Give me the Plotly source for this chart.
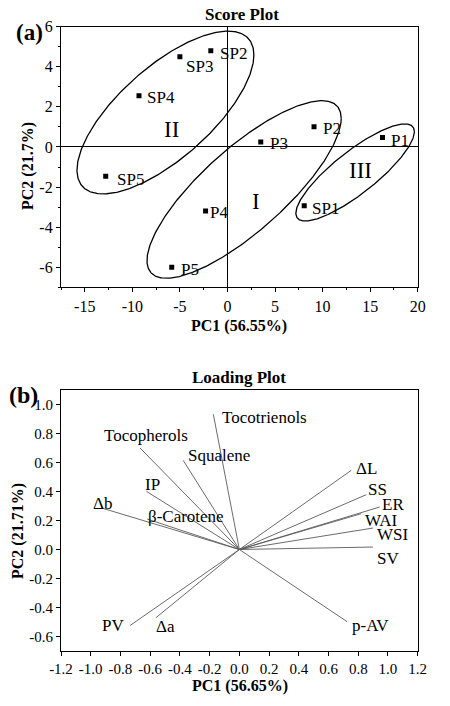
import numpy as np
import plotly.graph_objects as go

# ---------------- data: score plot ----------------
score_labels = ["SP2", "SP3", "SP4", "SP5", "P3", "P2", "P1", "SP1", "P4", "P5"]
score_pc1 = [-1.75, -5.0, -9.3, -12.8, 3.5, 9.1, 16.3, 8.07, -2.3, -5.86]
score_pc2 = [4.8, 4.5, 2.56, -1.46, 0.25, 1.01, 0.47, -2.93, -3.2, -6.0]

# group ellipses: centre, half-width, half-height, correlation of the bounding box
group_names = ["II", "I", "III"]
group_cx = [-6.52, 1.75, 13.42]
group_cy = [1.72, -2.12, -1.27]
group_wx = [9.30, 10.21, 6.23]
group_hy = [4.06, 4.43, 2.42]
group_rho = [0.707, 0.80, 0.84]
group_label_x = [-5.9, 3.0, 14.0]
group_label_y = [0.85, -2.73, -1.18]

score_xticks = [-15, -10, -5, 0, 5, 10, 15, 20]
score_xtick_text = ["-15", "-10", "-5", "0", "5", "10", "15", "20"]
score_yticks = [-6, -4, -2, 0, 2, 4, 6]
score_ytick_text = ["-6", "-4", "-2", "0", "2", "4", "6"]

# ---------------- data: loading plot ----------------
load_labels = ["Tocotrienols", "Tocopherols", "Squalene", "IP", "Δb", "β-Carotene",
               "ΔL", "SS", "ER", "WAI", "WSI", "SV", "p-AV", "PV", "Δa"]
load_pc1 = [-0.175, -0.668, -0.378, -0.625, -0.926, -0.62,
            0.753, 0.854, 0.944, 0.82, 0.899, 0.899, 0.724, -0.735, -0.562]
load_pc2 = [0.933, 0.70, 0.615, 0.401, 0.286, 0.21,
            0.546, 0.378, 0.293, 0.247, 0.148, 0.017, -0.497, -0.524, -0.471]

load_xticks = [-1.2, -1.0, -0.8, -0.6, -0.4, -0.2, 0.0, 0.2, 0.4, 0.6, 0.8, 1.0, 1.2]
load_xtick_text = ["-1.2", "-1.0", "-0.8", "-0.6", "-0.4", "-0.2", "0.0",
                   "0.2", "0.4", "0.6", "0.8", "1.0", "1.2"]
load_yticks = [-0.6, -0.4, -0.2, 0.0, 0.2, 0.4, 0.6, 0.8, 1.0]
load_ytick_text = ["-0.6", "-0.4", "-0.2", "0.0", "0.2", "0.4", "0.6", "0.8", "1.0"]

# ---------------- styling / placement (not data) ----------------
FONT = "Liberation Serif, Times New Roman, serif"
W, H = 450, 706

score_label_shift = [(7, -3), (4, -10), (6, -2), (9, -3), (7, -2),
                     (7, -2), (6, -3), (6, -3), (2, -1), (7, -2)]
load_label_place = [("left", 7, -3), ("center", 6, 13), ("left", 3, 5), ("left", -3, 7),
                    ("center", 1, 5), ("left", -1, 3), ("left", 3, 2), ("left", 0, 5),
                    ("left", 0, 3), ("left", 2, -7), ("left", 2, -6), ("left", 2, -11),
                    ("left", 3, -4), ("right", -4, 0), ("left", -2, -9)]


def px_x(p):
    return p / W


def px_y(p):
    return 1 - p / H


fig = go.Figure()

# ellipses
t = np.linspace(0, 2 * np.pi, 400)
for cx, cy, wx, hy, rho in zip(group_cx, group_cy, group_wx, group_hy, group_rho):
    phi = np.arccos(rho)
    fig.add_trace(go.Scatter(
        x=cx + wx * np.cos(t), y=cy + hy * np.cos(t - phi),
        mode="lines", line=dict(color="black", width=1.3),
        xaxis="x", yaxis="y", hoverinfo="skip", showlegend=False))

# score points
fig.add_trace(go.Scatter(
    x=score_pc1, y=score_pc2, mode="markers",
    marker=dict(symbol="square", size=5, color="black"),
    xaxis="x", yaxis="y", showlegend=False))

annotations = []
for lab, xv, yv, (dx, dy) in zip(score_labels, score_pc1, score_pc2, score_label_shift):
    annotations.append(dict(x=xv, y=yv, xref="x", yref="y", text=lab, showarrow=False,
                            xanchor="left", yanchor="middle", xshift=dx, yshift=dy,
                            font=dict(family=FONT, size=17, color="black")))
for lab, xv, yv in zip(group_names, group_label_x, group_label_y):
    annotations.append(dict(x=xv, y=yv, xref="x", yref="y", text=lab, showarrow=False,
                            xanchor="center", yanchor="middle",
                            font=dict(family=FONT, size=23, color="black")))

# loading vectors
vx, vy = [], []
for xv, yv in zip(load_pc1, load_pc2):
    vx += [0, xv, None]
    vy += [0, yv, None]
fig.add_trace(go.Scatter(
    x=vx, y=vy, mode="lines", line=dict(color="#5a5a5a", width=0.9),
    xaxis="x2", yaxis="y2", hoverinfo="skip", showlegend=False))

for lab, xv, yv, (anc, dx, dy) in zip(load_labels, load_pc1, load_pc2, load_label_place):
    annotations.append(dict(x=xv, y=yv, xref="x2", yref="y2", text=lab, showarrow=False,
                            xanchor=anc, yanchor="middle", xshift=dx, yshift=dy,
                            font=dict(family=FONT, size=17, color="black")))


def txt(text, x, y, size, bold=True, angle=0, xanchor="center"):
    return dict(x=px_x(x), y=px_y(y), xref="paper", yref="paper",
                text=f"<b>{text}</b>" if bold else text, showarrow=False,
                xanchor=xanchor, yanchor="middle", textangle=angle,
                font=dict(family=FONT, size=size, color="black"))


annotations += [
    txt("Score Plot", 242, 15, 17),
    txt("(a)", 29, 32, 23),
    txt("PC1 (56.55%)", 239, 326, 16),
    txt("PC2 (21.7%)", 28, 166, 16, angle=-90),
    txt("Loading Plot", 239, 377, 17),
    txt("(b)", 23, 395, 24),
    txt("PC1 (56.65%)", 240, 686, 16),
    txt("PC2 (21.71%)", 18, 531, 16, angle=-90),
]

axis_common = dict(showline=True, linecolor="black", linewidth=1.2, mirror=True,
                   ticks="outside", ticklen=4, tickwidth=1, tickcolor="black",
                   showgrid=False, fixedrange=True, automargin=False,
                   tickfont=dict(family=FONT, size=16, color="black"))
small_tick = {**axis_common, "tickfont": dict(family=FONT, size=15, color="black")}

xdom = [px_x(61), px_x(417.7)]
fig.update_layout(
    template="none",
    width=W, height=H, margin=dict(l=0, r=0, t=0, b=0, pad=0), autosize=False,
    paper_bgcolor="white", plot_bgcolor="white", showlegend=False,
    xaxis=dict(domain=xdom, anchor="y", range=[-17.5, 20],
               tickvals=score_xticks, ticktext=score_xtick_text,
               zeroline=True, zerolinecolor="black", zerolinewidth=1.2,
               minor=dict(ticks="outside", ticklen=2, dtick=2.5, tickcolor="black", showgrid=False),
               **axis_common),
    yaxis=dict(domain=[px_y(287.3), px_y(26.7)], anchor="x", range=[-7, 6],
               tickvals=score_yticks, ticktext=score_ytick_text,
               zeroline=True, zerolinecolor="black", zerolinewidth=1.2,
               minor=dict(ticks="outside", ticklen=2, dtick=1, tickcolor="black", showgrid=False),
               **axis_common),
    xaxis2=dict(domain=xdom, anchor="y2", range=[-1.2, 1.2],
                tickvals=load_xticks, ticktext=load_xtick_text, zeroline=False, **small_tick),
    yaxis2=dict(domain=[px_y(651), px_y(390)], anchor="x2", range=[-0.7, 1.1],
                tickvals=load_yticks, ticktext=load_ytick_text, zeroline=False, **small_tick),
    annotations=annotations,
)

fig.write_html("out.html", config={"displayModeBar": False},
               post_script="document.body.style.margin='0';document.body.style.overflow='hidden';")
